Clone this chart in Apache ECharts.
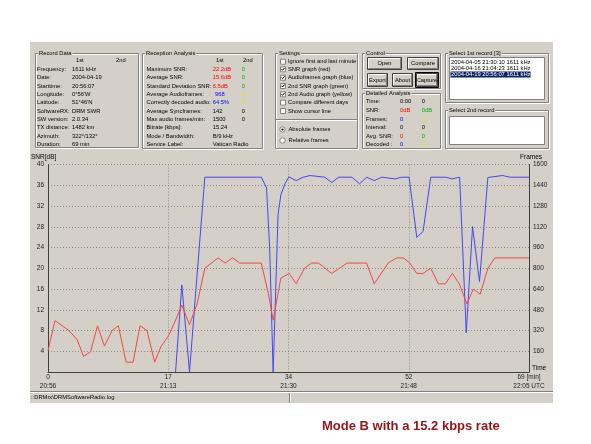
<!DOCTYPE html>
<html>
<head>
<meta charset="utf-8">
<script src="https://cdn.jsdelivr.net/npm/echarts@6/dist/echarts.min.js"></script>
<style>
html, body { margin: 0; padding: 0; background: #fff; }
#chart { width: 591px; height: 444px; }
</style>
</head>
<body>
<div id="chart"></div>
<script>
// SNR curve (red, left axis) : minute -> dB
var snrMinutes = [0, 1, 3, 4.2, 5.1, 6.1, 7.1, 8.1, 9.2, 10.1, 11.2, 12.2, 13.2, 14.2, 15.3, 16.2, 17.3, 18.3, 19.2, 20.3,
    21.4, 22.5, 24.4, 25.4, 26.5, 27.5, 30.6, 31.6, 32.3, 33.4, 34.6, 35.6, 36.8, 37.8, 38.8, 40.7, 42.9, 45.7, 46.8,
    48.8, 50.0, 51.0, 51.9, 52.9, 53.8, 54.9, 56.0, 57.0, 58.0, 59.0, 60.1, 61.0, 62.0, 63.1, 64.1, 69];
var snrDb = [4.1, 9.9, 8.0, 6.2, 3.0, 3.9, 8.9, 5.0, 8.0, 8.9, 1.9, 1.9, 8.9, 8.0, 1.9, 4.9, 7.0, 10.0, 12.9, 9.1,
    13.2, 20.0, 22.0, 21.0, 22.0, 21.0, 21.0, 15.2, 10.0, 18.1, 19.0, 17.0, 20.0, 21.0, 21.0, 19.0, 21.0, 21.0, 17.0,
    21.0, 22.0, 22.0, 21.0, 19.0, 19.0, 20.0, 17.0, 17.0, 19.0, 17.0, 13.1, 16.0, 15.0, 20.0, 22.0, 22.0];

// audio frames curve (blue, right axis) : minute -> frames
var frameMinutes = [18.3, 19.2, 20.3, 21.4, 22.5, 30.6, 31.35, 31.8, 32.3, 32.5, 33.0, 33.4, 34.0, 34.55, 35.6, 36.6,
    37.6, 39.7, 40.7, 41.7, 43.6, 44.7, 45.7, 46.8, 47.9, 49.8, 50.7, 51.8, 52.9, 53.8, 54.9, 57.0, 58.0, 59.05,
    60.0, 60.9, 61.9, 63.1, 65.2, 66.3, 69];
var frameCounts = [0, 671, 0, 760, 1502, 1502, 1420, 957, 0, 0, 1212, 1366, 1451, 1505, 1476, 1502,
    1515, 1502, 1461, 1502, 1502, 1451, 1502, 1476, 1502, 1489, 1502, 1502, 1039, 1083, 1502, 1502, 1489, 1502,
    301, 1121, 697, 1500, 1515, 1502, 1502];

// x tick labels (ticks at quarters of the 69 min record)
var minuteLabels = ['0', '17', '34', '52', '69'];
var clockLabels = ['20:56', '21:13', '21:30', '21:48', '22:05'];

// panel texts
var recordLabels = ['Frequency:', 'Date:', 'Starttime:', 'Longitude:', 'Latitude:', 'SoftwareRX:', 'SW version:',
    'TX distance:', 'Azimuth:', 'Duration:'];
var recordValues = ['1611 kHz', '2004-04-19', '20:56:07', '0\u00b056\'W', '51\u00b046\'N', 'DRM SWR', '2.0.34',
    '1482 km', '322\u00b0/132\u00b0', '69 min'];
var receptionLabels = ['Maximum SNR:', 'Average SNR:', 'Standard Deviation SNR:', 'Average Audioframes:',
    'Correctly decoded audio:', 'Average Syncframes:', 'Max audio frames/min:', 'Bitrate [kbps]:',
    'Mode / Bandwidth:', 'Service Label:'];
var receptionFirst = ['22.2dB', '15.6dB', '6.5dB', '968', '64.5%', '142', '1500', '15.24', 'B/9 kHz', 'Vatican Radio'];
var receptionSecond = ['0', '0', '0', '0', '0', '0', '0', '', '', ''];
var settingsLabels = ['Ignore first and last minute', 'SNR graph (red)', 'Audioframes graph (blue)',
    '2nd SNR graph (green)', '2nd Audio graph (yellow)', 'Compare different days', 'Show cursor line'];
var settingsChecked = [false, true, true, true, true, false, false];
var detailLabels = ['Time:', 'SNR:', 'Frames:', 'Interval:', 'Avg. SNR:', 'Decoded :'];
var detailFirst = ['0:00', '0dB', '0', '0', '0', '0'];
var detailSecond = ['0', '0dB', '0', '0', '0', '0'];
var recordList = ['2004-04-05 21:30:10 1611 kHz', '2004-04-16 21:04:23 1611 kHz', '2004-04-19 20:56:07 1611 kHz'];

var RED = '#ff0000', GREEN = '#00b000', BLUE = '#0000ff', YELLOW = '#e6e600';
var WIN = '#d4d0c8';
var FONT = '5.8px "Liberation Sans", Arial, sans-serif';
var AXFONT = 6.5;

function T(x, y, s, fill, extra) {
    var st = {text: s, fill: fill || '#000', font: FONT, align: 'left', verticalAlign: 'middle',
        textAlign: 'left', textVerticalAlign: 'middle'};
    for (var k in (extra || {})) st[k] = extra[k];
    return {type: 'text', x: x, y: y, z: 20, style: st};
}
function R(x, y, w, h, fill, stroke, z) {
    return {type: 'rect', z: z == null ? 10 : z, shape: {x: x, y: y, width: w, height: h},
        style: {fill: fill || 'none', stroke: stroke || 'none', lineWidth: 1}};
}
function L(x1, y1, x2, y2, stroke) {
    return {type: 'line', z: 12, shape: {x1: x1, y1: y1, x2: x2, y2: y2}, style: {stroke: stroke, lineWidth: 1}};
}
function groupBox(x, y, w, h, title) {
    return [
        R(x + 1.5, y + 1.5, w, h, null, '#ffffff'),
        R(x + 0.5, y + 0.5, w, h, null, '#808080'),
        T(x + 3, y + 0.5, title, '#000', {backgroundColor: WIN, padding: [0, 1]})
    ];
}
function button(x, y, w, h, label, isDefault) {
    var out = [R(x + 0.5, y + 0.5, w, h, WIN, '#404040'),
        L(x + 1, y + 1.5, x + w - 1, y + 1.5, '#ffffff'),
        L(x + 1.5, y + 1, x + 1.5, y + h - 1, '#ffffff'),
        L(x + 1.5, y + h - 0.5, x + w - 0.5, y + h - 0.5, '#808080'),
        L(x + w - 0.5, y + 1.5, x + w - 0.5, y + h - 0.5, '#808080')];
    if (isDefault) out.push(R(x - 0.5, y - 0.5, w + 2, h + 2, null, '#000'));
    out.push(T(x + w / 2 + 0.5, y + h / 2 + 0.5, label, '#000', {align: 'center', textAlign: 'center'}));
    return out;
}
function checkbox(x, y, checked) {
    var out = [R(x + 0.5, y + 0.5, 5, 5, '#ffffff', '#808080')];
    if (checked) out.push({type: 'polyline', z: 12, shape: {points: [[x + 1.5, y + 2.8], [x + 2.6, y + 4], [x + 4.6, y + 1.5]]},
        style: {stroke: '#000', lineWidth: 1, fill: 'none'}});
    return out;
}
function radio(cx, cy, on) {
    var out = [{type: 'circle', z: 12, shape: {cx: cx, cy: cy, r: 2.7}, style: {fill: '#fff', stroke: '#808080', lineWidth: 1}}];
    if (on) out.push({type: 'circle', z: 13, shape: {cx: cx, cy: cy, r: 1.1}, style: {fill: '#000'}});
    return out;
}

var ui = [];
function add(a) { ui = ui.concat(a); }

// window
add([R(30, 42, 523, 361, WIN, null, -100)]);

// Record Data
add(groupBox(35, 53, 103, 94, 'Record Data'));
var rowY = [69.3, 77.7, 86, 94.3, 102.6, 111, 119.3, 127.6, 136, 144.3];
add([T(76, 60.7, '1st'), T(116, 60.7, '2nd')]);
recordLabels.forEach(function (s, i) {
    add([T(37, rowY[i], s), T(72, rowY[i], recordValues[i])]);
});

// Reception Analysis
add(groupBox(142, 53, 120, 95, 'Reception Analysis'));
add([T(216, 60.7, '1st'), T(243, 60.7, '2nd')]);
var firstColors = [RED, RED, RED, BLUE, BLUE, '#000', '#000', '#000', '#000', '#000'];
var secondColors = [GREEN, GREEN, GREEN, YELLOW, YELLOW, '#000', '#000', '#000', '#000', '#000'];
receptionLabels.forEach(function (s, i) {
    add([T(146.5, rowY[i], s), T(i === 3 ? 215 : 212.7, rowY[i], receptionFirst[i], firstColors[i]),
        T(241.7, rowY[i], receptionSecond[i], secondColors[i])]);
});

// Settings
add(groupBox(275, 53, 82, 95, 'Settings'));
var setY = [61.7, 69.3, 77.7, 86, 94.3, 102.6, 111];
settingsLabels.forEach(function (s, i) {
    add(checkbox(280, setY[i] - 3, settingsChecked[i]));
    add([T(288, setY[i], s)]);
});
add([L(276, 119.5, 357, 119.5, '#808080'), L(276, 120.5, 357, 120.5, '#ffffff')]);
add(radio(282.5, 129.5, true));
add([T(288.5, 129.5, 'Absolute frames')]);
add(radio(282.5, 140.5, false));
add([T(288.5, 140.5, 'Relative frames')]);

// Control
add(groupBox(362, 53, 78, 35, 'Control'));
add(button(367, 57, 34, 12, 'Open'));
add(button(407, 57, 31, 12, 'Compare'));
add(button(367, 73, 20, 13, 'Export'));
add(button(392, 73, 20, 13, 'About'));
add(button(416, 73, 21, 13, 'Capture', true));

// Detailed Analysis
add(groupBox(362, 93, 78, 55, 'Detailed Analysis'));
var detY = [101.7, 110.7, 119, 127.4, 136, 144.3];
var detC1 = ['#000', RED, BLUE, '#000', RED, BLUE];
var detC2 = ['#000', GREEN, YELLOW, '#000', GREEN, YELLOW];
detailLabels.forEach(function (s, i) {
    add([T(366, detY[i], s), T(400, detY[i], detailFirst[i], detC1[i]), T(421.7, detY[i], detailSecond[i], detC2[i])]);
});

// Select 1st record
add(groupBox(445, 53, 103, 49, 'Select 1st record [3]'));
add([R(449.5, 57.5, 95, 42, '#ffffff', '#808080')]);
add([R(450.5, 71.4, 80, 6, '#0a246a', null, 11)]);
var listY = [62.7, 68.4, 74.4];
recordList.forEach(function (s, i) {
    add([T(451, listY[i], s, i === 2 ? '#ffffff' : '#000')]);
});

// Select 2nd record
add(groupBox(445, 110, 103, 38, 'Select 2nd record'));
add([R(449.5, 116.5, 95, 28, '#ffffff', '#808080')]);

// chart captions
var axFontStr = AXFONT + 'px "Liberation Sans", Arial, sans-serif';
add([T(31, 157, 'SNR[dB]', '#000', {font: axFontStr}),
    T(520, 157, 'Frames', '#000', {font: axFontStr}),
    T(532, 368, 'Time', '#000', {font: axFontStr})]);

// status bar
add([L(30, 391.5, 553, 391.5, '#808080'), L(30, 392.5, 553, 392.5, '#ffffff'),
    L(289.5, 393, 289.5, 403, '#808080'), L(290.5, 393, 290.5, 403, '#ffffff'),
    T(31, 397.5, '::DRMrx\\DRMSoftwareRadio.log')]);

// slide caption
add([T(322, 426.5, 'Mode B with a 15.2 kbps rate', '#931515', {font: 'bold 13px "Liberation Sans", Arial, sans-serif'})]);

var chart = echarts.init(document.getElementById('chart'));
chart.setOption({
    animation: false,
    backgroundColor: '#ffffff',
    grid: {left: 48, right: 62, top: 164.5, bottom: 72, containLabel: false, outerBoundsMode: 'none'},
    xAxis: {
        type: 'value', min: 0, max: 69, interval: 17.25,
        axisLine: {lineStyle: {color: '#404040', width: 1}},
        axisTick: {show: false},
        splitLine: {show: true, lineStyle: {color: '#8a8a8a', type: [1, 2], width: 1}},
        axisLabel: {
            fontSize: AXFONT, color: '#222', lineHeight: 9, margin: 1,
            fontFamily: 'Liberation Sans',
            showMinLabel: true, showMaxLabel: true,
            formatter: function (v) {
                var i = Math.round(v / 17.25);
                if (i === 4) return minuteLabels[i] + ' [min]\n' + clockLabels[i] + ' UTC';
                return minuteLabels[i] + '\n' + clockLabels[i];
            }
        }
    },
    yAxis: [{
        type: 'value', min: 0, max: 40, interval: 4, position: 'left',
        axisLine: {show: true, lineStyle: {color: '#404040', width: 1}},
        axisTick: {show: false},
        splitLine: {show: true, lineStyle: {color: '#8a8a8a', type: [1, 2], width: 1}},
        axisLabel: {fontSize: AXFONT, color: '#222', margin: 4, fontFamily: 'Liberation Sans',
            formatter: function (v) { return v === 0 ? '' : v; }}
    }, {
        type: 'value', min: 0, max: 1600, interval: 160, position: 'right',
        axisLine: {show: true, lineStyle: {color: '#404040', width: 1}},
        axisTick: {show: false},
        splitLine: {show: false},
        axisLabel: {fontSize: AXFONT, color: '#222', margin: 4, fontFamily: 'Liberation Sans',
            formatter: function (v) { return v === 0 ? '' : v; }}
    }],
    series: [{
        name: 'Audioframes', type: 'line', yAxisIndex: 1, showSymbol: false, symbol: 'none',
        lineStyle: {color: '#4646f0', width: 1}, itemStyle: {color: '#4646f0'},
        data: frameMinutes.map(function (t, i) { return [t, frameCounts[i]]; })
    }, {
        name: 'SNR', type: 'line', yAxisIndex: 0, showSymbol: false, symbol: 'none',
        lineStyle: {color: '#f04848', width: 1}, itemStyle: {color: '#f04848'},
        data: snrMinutes.map(function (t, i) { return [t, snrDb[i]]; })
    }],
    graphic: {elements: ui}
});
</script>
</body>
</html>
